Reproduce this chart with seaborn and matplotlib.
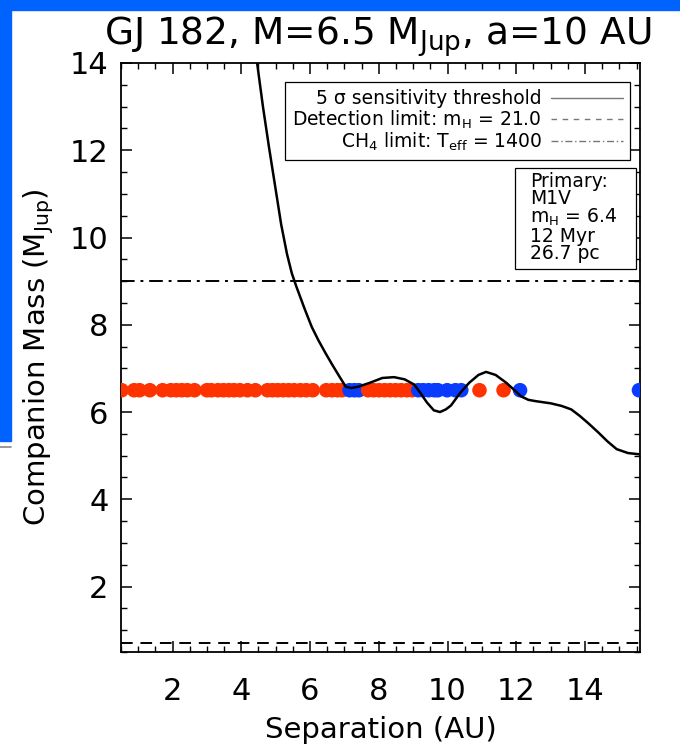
import matplotlib
matplotlib.use("Agg")
import matplotlib.pyplot as plt
import seaborn as sns
import pandas as pd
from matplotlib.lines import Line2D
from matplotlib.patches import Rectangle

# ---------------- data ----------------
# 5-sigma sensitivity threshold curve (separation AU, mass M_Jup)
curve_sep = [4.36, 4.46, 4.63, 4.80, 4.98, 5.16, 5.33, 5.47, 5.60, 5.85, 6.05, 6.24,
             6.45, 6.65, 6.85, 7.04, 7.20, 7.40, 7.74, 8.10, 8.44, 8.75, 9.03,
             9.20, 9.40, 9.60, 9.78, 9.95, 10.10, 10.37, 10.63, 10.90, 11.12,
             11.40, 11.71, 11.95, 12.14, 12.35, 12.56, 13.00, 13.32, 13.60,
             13.85, 14.10, 14.39, 14.65, 14.92, 15.25, 15.60]
curve_mass = [14.5, 14.0, 13.0, 12.1, 11.2, 10.3, 9.62, 9.18, 8.88, 8.35, 7.95, 7.65,
              7.35, 7.08, 6.82, 6.58, 6.55, 6.58, 6.67, 6.78, 6.80, 6.75, 6.63,
              6.45, 6.22, 6.04, 6.00, 6.06, 6.15, 6.44, 6.67, 6.85, 6.92,
              6.85, 6.67, 6.50, 6.36, 6.28, 6.25, 6.20, 6.14, 6.06,
              5.91, 5.74, 5.53, 5.33, 5.15, 5.06, 5.03]

planet_mass = 6.5
detection_limit = 0.7
ch4_limit = 9.0

sep_detected = [0.52, 0.88, 1.04, 1.34, 1.71, 1.95, 2.11, 2.27, 2.43, 2.64, 3.00,
                3.13, 3.32, 3.48, 3.64, 3.79, 3.96, 4.18, 4.41, 4.76, 4.91, 5.06,
                5.22, 5.38, 5.54, 5.72, 5.89, 6.08, 6.47, 6.64, 6.80, 6.93,
                7.69, 7.85, 8.01, 8.17, 8.33, 8.49, 8.65, 8.82, 8.97,
                10.93, 11.63]
sep_missed = [7.15, 7.29, 7.42, 9.15, 9.29, 9.45, 9.62, 9.72, 9.99, 10.23, 10.40,
              12.11, 15.57]

x_ticks = [2, 4, 6, 8, 10, 12, 14]
y_ticks = [2, 4, 6, 8, 10, 12, 14]

legend_labels = ["5 σ sensitivity threshold",
                 r"Detection limit: m$_{\rm H}$ = 21.0",
                 r"CH$_4$ limit: T$_{\rm eff}$ = 1400"]
primary_text = "Primary:\nM1V\n" + r"m$_{\rm H}$ = 6.4" + "\n12 Myr\n26.7 pc"

# ---------------- style ----------------
sns.set_theme(style="ticks")
plt.rcParams["font.family"] = ["DejaVu Sans"]
plt.rcParams["mathtext.fontset"] = "dejavusans"
for k in ["text.color", "axes.labelcolor", "xtick.color", "ytick.color", "axes.edgecolor"]:
    plt.rcParams[k] = "black"

W, H = 680, 748
fig = plt.figure(figsize=(W/100, H/100), dpi=100, facecolor="white")
ax = fig.add_axes([121/W, 1-652/H, (640-121)/W, (652-63)/H])

# slide decorations
fig.patches.append(Rectangle((0, 1-10/H), 1, 10/H, transform=fig.transFigure,
                             color="#0062FF", zorder=0))
fig.patches.append(Rectangle((0, 1-441/H), 11/W, 441/H, transform=fig.transFigure,
                             color="#0062FF", zorder=0))
fig.lines.append(Line2D([0, 11/W], [1-447/H, 1-447/H], transform=fig.transFigure,
                        color="#888888", lw=1.2))

df = pd.DataFrame({
    "sep": sep_detected + sep_missed,
    "mass": [planet_mass]*(len(sep_detected)+len(sep_missed)),
    "status": ["det"]*len(sep_detected) + ["miss"]*len(sep_missed),
}).sort_values("sep")

sns.scatterplot(data=df, x="sep", y="mass", hue="status",
                palette={"det": "#FF3300", "miss": "#0A3CFF"},
                s=110, linewidth=0, legend=False, ax=ax, zorder=3)

sns.lineplot(x=curve_sep, y=curve_mass, color="black", lw=1.8, ax=ax,
             sort=False, estimator=None, zorder=4)

ax.axhline(detection_limit, color="black", lw=1.4, ls=(0, (6, 4)), zorder=2)
ax.axhline(ch4_limit, color="black", lw=1.4, ls=(0, (7, 3, 1.5, 3)), zorder=2)

ax.set_xlim(0.5, 15.6)
ax.set_ylim(0.5, 14.0)
ax.set_xticks(x_ticks)
ax.set_yticks(y_ticks)
ax.set_xticks([v/2 for v in range(1, 32)], minor=True)
ax.set_yticks([v/2 for v in range(1, 28)], minor=True)
ax.tick_params(which="both", direction="in", top=True, right=True, color="black")
ax.tick_params(which="major", length=8, width=1.1)
ax.tick_params(which="minor", length=4, width=1.0)
ax.tick_params(axis="x", which="major", labelsize=22, pad=18)
ax.tick_params(axis="y", which="major", labelsize=22, pad=9)
for sp in ax.spines.values():
    sp.set_linewidth(1.3)
    sp.set_color("black")

ax.set_xlabel("Separation (AU)", fontsize=21, labelpad=7)
ax.set_ylabel(r"Companion Mass (M$_{\rm Jup}$)", fontsize=21, labelpad=10)
fig.text(378/W, 1-37/H, r"GJ 182, M=6.5 M$_{\rm Jup}$, a=10 AU",
         fontsize=27, ha="center", va="center")

handles = [Line2D([], [], color="#777777", lw=1.0),
           Line2D([], [], color="#777777", lw=1.0, ls=(0, (4, 4))),
           Line2D([], [], color="#777777", lw=1.0, ls=(0, (5, 2, 1, 2)))]
leg = ax.legend(handles, legend_labels, loc="upper right",
                bbox_to_anchor=(0.981, 0.968), borderaxespad=0,
                markerfirst=False, fontsize=13.5, handlelength=3.8,
                handletextpad=0.5, labelspacing=0.0, borderpad=0.4,
                fancybox=False, framealpha=1, edgecolor="black")
leg.get_frame().set_linewidth(0.9)

# primary-star info box
ax.add_patch(Rectangle(((515-121)/519, (652-269)/589), (636-515)/519, (269-168)/589,
                       transform=ax.transAxes, fc="white", ec="black", lw=0.9, zorder=5))
ax.text((530-121)/519, (652-172)/589, primary_text, transform=ax.transAxes,
        ha="left", va="top", fontsize=13.5, linespacing=0.9, zorder=6)

fig.savefig("out.png", dpi=100, facecolor="white")
